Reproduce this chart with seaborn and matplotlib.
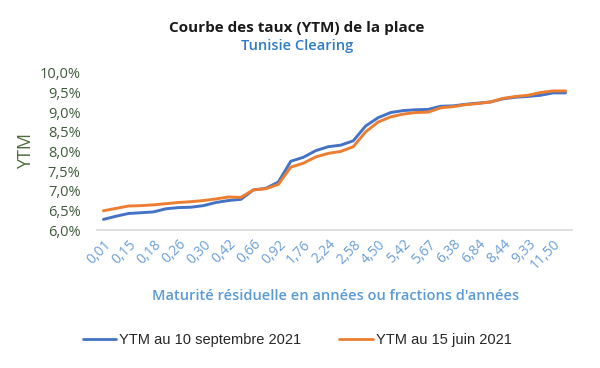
import seaborn as sns
import matplotlib.pyplot as plt
import pandas as pd
import numpy as np

# maturités (années) - seules une sur deux sont affichées sur l'axe
maturites = ["0,01", "0,08", "0,15", "0,16", "0,18", "0,22", "0,26", "0,28",
             "0,30", "0,36", "0,42", "0,55", "0,66", "0,80", "0,92", "1,30",
             "1,76", "2,00", "2,24", "2,40", "2,58", "3,50", "4,50", "5,00",
             "5,42", "5,50", "5,67", "6,00", "6,38", "6,60", "6,84", "7,50",
             "8,44", "9,00", "9,33", "10,50", "11,50", "11,80"]

ytm_sept = [6.27, 6.35, 6.42, 6.44, 6.46, 6.54, 6.57, 6.58, 6.62, 6.70,
            6.75, 6.78, 7.02, 7.06, 7.22, 7.75, 7.85, 8.02, 8.12, 8.16,
            8.27, 8.65, 8.86, 8.99, 9.04, 9.06, 9.07, 9.15, 9.16, 9.20,
            9.23, 9.26, 9.34, 9.38, 9.40, 9.43, 9.49, 9.49]

ytm_juin = [6.49, 6.55, 6.61, 6.62, 6.64, 6.67, 6.70, 6.72, 6.75, 6.79,
            6.84, 6.83, 7.02, 7.05, 7.16, 7.60, 7.70, 7.86, 7.95, 8.00,
            8.12, 8.50, 8.75, 8.88, 8.95, 8.99, 9.00, 9.11, 9.14, 9.19,
            9.22, 9.26, 9.35, 9.40, 9.43, 9.50, 9.54, 9.54]

series = ["YTM au 10 septembre 2021", "YTM au 15 juin 2021"]
couleurs = ["#4472C4", "#ED7D31"]

pos = np.arange(len(maturites))
df = pd.concat([
    pd.DataFrame({"pos": pos, "ytm": ytm_sept, "serie": series[0]}),
    pd.DataFrame({"pos": pos, "ytm": ytm_juin, "serie": series[1]}),
])

sns.set_style("white")
plt.rcParams['font.family'] = ['Open Sans', 'DejaVu Sans']

fig = plt.figure(figsize=(6, 3.68), dpi=100)
ax = fig.add_axes([0.162, 0.375, 0.791, 0.427])

sns.lineplot(data=df, x="pos", y="ytm", hue="serie", palette=couleurs,
             linewidth=2.1, ax=ax, legend=False)

ax.set_xlim(-0.5, len(maturites) - 0.5)
ax.set_ylim(6.0, 10.0)
ax.set_yticks(np.arange(6.0, 10.01, 0.5))
ax.set_yticklabels([f"{v:.1f}%".replace(".", ",") for v in np.arange(6.0, 10.01, 0.5)],
                   color="#3E5B3A", fontsize=10.5)
ax.set_xticks(pos[::2])
ax.set_xticklabels(maturites[::2], rotation=45, ha="right", rotation_mode="anchor",
                   color="#6A9FD6", fontsize=10)
ax.tick_params(axis="both", length=0, pad=5)
ax.tick_params(axis="y", pad=12)

for s in ["top", "right", "left"]:
    ax.spines[s].set_visible(False)
ax.spines["bottom"].set_color("#D9D9D9")
ax.spines["bottom"].set_linewidth(1.2)

ax.set_xlabel("")
ax.set_ylabel("")
fig.text(0.043, 0.59, "YTM", rotation=90, ha="center", va="center",
         color="#4A6B3A", fontsize=13)
fig.text(0.56, 0.195, "Maturité résiduelle en années ou fractions d'années",
         ha="center", va="center", color="#5B9BD5", fontsize=10.5, fontweight="semibold")

fig.text(0.495, 0.925, "Courbe des taux (YTM) de la place", ha="center", va="center",
         fontsize=11, fontweight="bold", color="#1a1a1a")
fig.text(0.495, 0.875, "Tunisie Clearing", ha="center", va="center",
         fontsize=10.5, fontweight="semibold", color="#2E7CC4")

handles = [plt.Line2D([], [], color=c, linewidth=2) for c in couleurs]
fig.legend(handles, series, loc="center", bbox_to_anchor=(0.495, 0.077), ncol=2,
           frameon=False, handlelength=2.3, handletextpad=0.2, columnspacing=2.6,
           prop={"family": "Liberation Sans", "size": 10.5})

fig.savefig("out.png", dpi=100)
